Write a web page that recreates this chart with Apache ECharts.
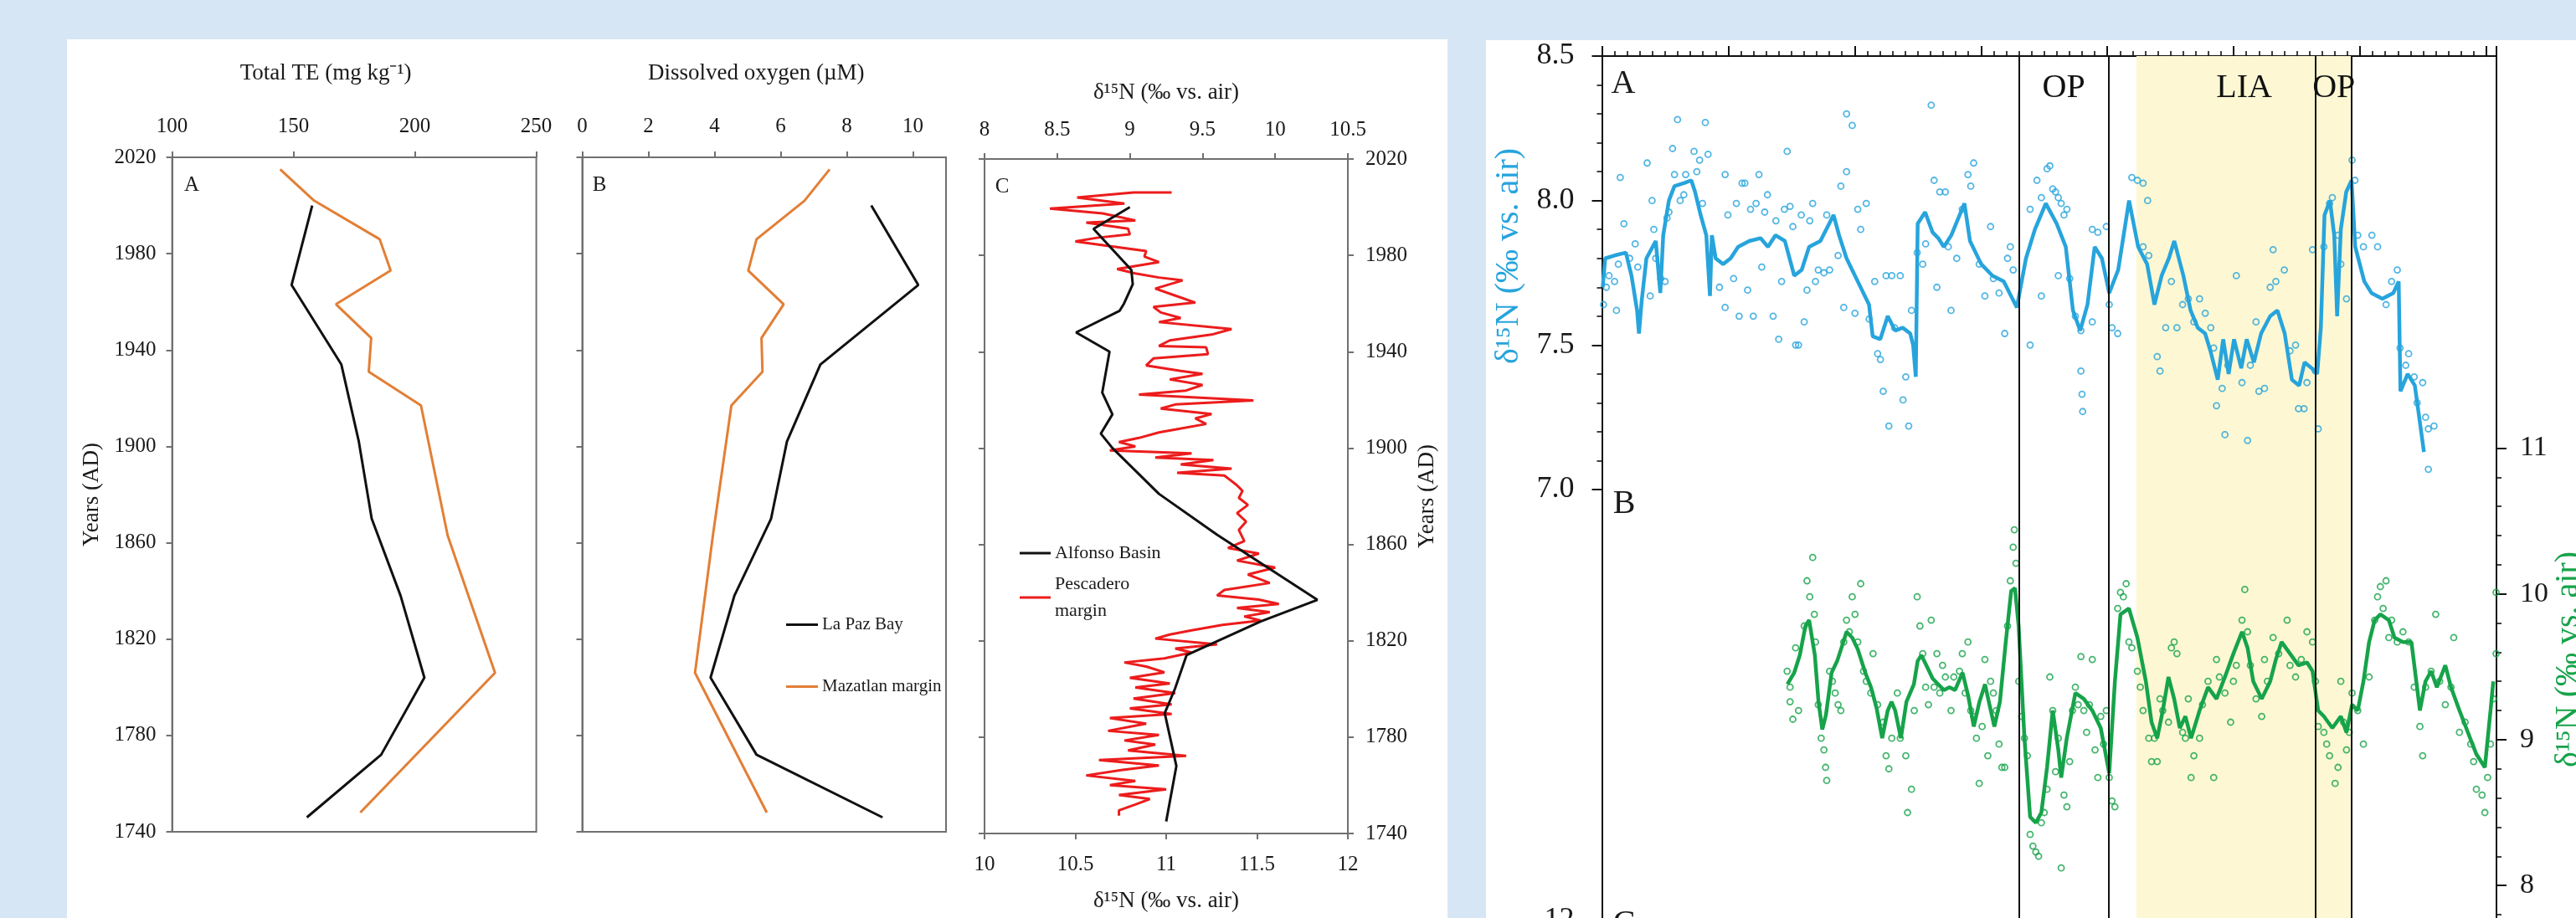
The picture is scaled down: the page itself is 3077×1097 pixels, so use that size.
<!DOCTYPE html>
<html>
<head>
<meta charset="utf-8">
<script src="https://cdn.jsdelivr.net/npm/echarts@6/dist/echarts.min.js"></script>
<style>
  html, body { margin: 0; padding: 0; background: #d7e6f5; }
  #chart { width: 3077px; height: 1097px; }
</style>
</head>
<body>
<div id="chart"></div>
<script>
// ---- panel A / B : trace elements and dissolved oxygen (years AD) ----
var yearsLaPaz = [2000, 1967, 1934, 1902, 1870, 1838, 1804, 1772, 1746];
var teLaPaz = [157.7, 149.2, 169.7, 176.9, 182.2, 194.1, 203.9, 186.1, 155.5];
var doLaPaz = [8.74, 10.16, 7.2, 6.19, 5.71, 4.6, 3.88, 5.27, 9.08];

var yearsMaz = [2015, 2002, 1986, 1973, 1959, 1945, 1931, 1917, 1863, 1806, 1748];
var teMaz = [144.5, 158.5, 185.5, 190.0, 167.5, 182.0, 181.0, 202.5, 213.5, 233.0, 177.5];
var doMaz = [7.48, 6.72, 5.27, 5.02, 6.09, 5.42, 5.45, 4.51, 3.95, 3.41, 5.58];

// ---- panel C : d15N, Alfonso Basin (top axis) ----
var alfonsoYears = [2000, 1991, 1974, 1968, 1960, 1957, 1948, 1940, 1923, 1914, 1906, 1900, 1881, 1864, 1837, 1828, 1814, 1800, 1790, 1768, 1745];
var alfonso = [9.0, 8.75, 9.01, 9.02, 8.96, 8.93, 8.63, 8.86, 8.81, 8.88, 8.8, 8.88, 9.2, 9.6, 10.29, 9.9, 9.39, 9.31, 9.24, 9.32, 9.25];

// Pescadero margin (bottom axis) : [d15N, year]
var pescadero = [
  [11.03,2006.1],[10.82,2006.1],[10.51,2004.0],[10.77,2001.5],[10.36,1999.4],[10.65,1997.4],[10.83,1994.5],[10.56,1993.6],
  [10.79,1991.1],[10.80,1988.7],[10.62,1987.3],[10.50,1985.8],[10.66,1984.1],[10.89,1981.8],[10.88,1979.5],[10.96,1977.2],
  [10.73,1974.3],[10.83,1972.5],[10.96,1970.8],[11.09,1969.6],[10.94,1966.2],[11.05,1963.3],[11.16,1960.4],[10.93,1958.6],
  [10.97,1956.3],[11.08,1954.0],[10.96,1952.3],[11.36,1949.4],[11.25,1947.1],[11.02,1944.7],[10.96,1942.4],[11.22,1941.8],
  [11.23,1939.0],[10.93,1937.2],[10.89,1934.3],[11.08,1932.0],[11.20,1930.8],[11.02,1928.5],[11.20,1926.2],[11.11,1923.9],
  [10.85,1922.2],[11.48,1919.8],[11.05,1918.1],[10.97,1916.4],[11.25,1914.1],[11.16,1912.3],[11.22,1910.0],[11.05,1907.7],
  [10.96,1906.5],[10.85,1904.2],[10.74,1902.5],[10.83,1900.7],[10.69,1899.0],[11.14,1897.8],[10.94,1896.1],[11.26,1895.0],
  [11.08,1893.2],[11.36,1891.5],[11.06,1889.7],[11.32,1888.6],[11.36,1886.3],[11.39,1884.5],[11.42,1882.2],[11.40,1879.3],
  [11.45,1876.4],[11.39,1873.0],[11.44,1869.5],[11.40,1866.0],[11.43,1861.4],[11.34,1858.5],[11.51,1856.2],[11.39,1853.3],
  [11.60,1850.4],[11.45,1847.5],[11.57,1844.0],[11.32,1841.1],[11.28,1838.8],[11.51,1837.1],[11.62,1835.3],[11.39,1833.6],
  [11.57,1831.9],[11.43,1830.1],[11.52,1828.4],[11.31,1826.6],[11.14,1824.3],[11.02,1822.6],[10.94,1820.9],[11.28,1818.5],
  [11.05,1816.8],[11.14,1815.1],[10.99,1812.7],[10.77,1811.0],[10.89,1809.3],[10.99,1806.9],[10.80,1804.6],[11.02,1802.3],
  [10.83,1800.6],[11.05,1798.3],[10.82,1796.0],[11.03,1793.6],[10.80,1791.9],[11.03,1789.6],[10.69,1787.9],[10.89,1785.6],
  [10.68,1782.6],[10.96,1780.9],[10.77,1778.6],[10.94,1776.9],[10.79,1774.5],[11.11,1772.2],[10.63,1770.5],[10.96,1768.2],
  [10.76,1766.4],[10.56,1764.1],[10.83,1761.8],[10.69,1760.1],[11.00,1758.3],[10.74,1756.0],[10.91,1754.3],[10.83,1752.0],
  [10.74,1749.6],[10.74,1747.4]
];

// ---- right figure : record position (no labels on that axis) vs d15N ----
var periodLines = [330, 401, 565, 593.5];
var liaBand = [423, 593.5];
var opBands = [[330, 401], [565, 593.5]];

var blueSmooth = [
  [0.6,7.70],[2.6,7.80],[10.0,7.81],[18.9,7.82],[23.4,7.74],[27.8,7.62],[29.3,7.54],[31.4,7.65],[35.2,7.80],[42.6,7.86],
  [45.0,7.74],[46.2,7.68],[48.5,7.88],[53.0,8.00],[57.4,8.05],[64.8,8.06],[70.7,8.07],[73.7,8.03],[78.1,7.95],[82.6,7.88],
  [85.5,7.67],[87.0,7.88],[90.0,7.80],[95.9,7.78],[101.8,7.80],[107.8,7.84],[116.6,7.86],[125.5,7.87],[131.4,7.84],[137.4,7.88],
  [144.8,7.86],[152.2,7.74],[158.1,7.76],[164.0,7.84],[172.9,7.86],[183.3,7.95],[187.7,7.88],[193.6,7.80],[202.5,7.72],[211.4,7.64],
  [214.3,7.53],[220.3,7.52],[226.2,7.60],[232.1,7.55],[238.0,7.56],[244.0,7.54],[246.3,7.50],[248.4,7.39],[249.9,7.92],[255.8,7.96],
  [261.7,7.89],[266.2,7.87],[270.6,7.84],[276.5,7.88],[286.9,7.99],[291.3,7.86],[300.2,7.78],[309.1,7.74],[318.0,7.72],[328.4,7.63],
  [335.6,7.80],[342.7,7.90],[351.3,7.99],[359.9,7.92],[367.1,7.84],[372.8,7.62],[378.5,7.55],[384.3,7.64],[390.0,7.84],[395.7,7.80],
  [401.5,7.68],[408.6,7.76],[417.2,8.00],[424.4,7.84],[431.5,7.78],[437.3,7.64],[443.0,7.74],[448.7,7.80],[453.0,7.86],[460.2,7.74],
  [465.9,7.62],[471.6,7.56],[477.4,7.54],[481.6,7.48],[487.4,7.38],[491.7,7.52],[496.0,7.40],[500.3,7.52],[506.0,7.42],[510.3,7.52],
  [516.0,7.44],[521.7,7.54],[528.9,7.60],[534.6,7.62],[540.4,7.54],[546.1,7.38],[551.8,7.36],[556.1,7.44],[561.8,7.42],[566.1,7.40],
  [569.0,7.56],[571.9,7.95],[576.2,8.00],[579.6,7.88],[581.9,7.60],[584.8,7.90],[589.1,8.03],[593.3,8.07],[596.2,7.84],[603.4,7.72],
  [609.1,7.68],[617.7,7.66],[626.3,7.68],[630.6,7.72],[632.0,7.34],[637.7,7.40],[643.4,7.36],[650.6,7.13]
];

var blueDots = [
  [1.2,7.64],[3.5,7.70],[5.6,7.74],[10.0,7.72],[11.5,7.62],[13.0,7.78],[14.5,8.08],[17.4,7.92],[21.9,7.80],[26.3,7.85],
  [28.4,7.77],[35.8,8.13],[38.2,7.67],[39.7,8.00],[41.1,7.90],[42.6,7.80],[46.5,7.73],[50.0,7.72],[51.5,7.94],[53.0,7.96],
  [55.9,8.18],[57.4,8.09],[59.8,8.28],[61.9,8.00],[64.8,8.02],[66.3,8.09],[72.9,8.17],[77.3,8.14],[81.8,8.27],[84.0,8.16],
  [75.1,8.10],[79.6,7.99],[93.0,7.70],[97.5,8.09],[97.5,7.63],[99.7,7.95],[104.2,7.73],[106.4,7.99],[108.6,7.60],[110.9,8.06],
  [113.1,8.06],[115.3,7.69],[117.6,7.97],[119.8,7.60],[122.0,7.99],[124.3,8.09],[126.5,7.77],[128.8,7.96],[131.0,8.02],[135.5,7.60],
  [137.7,7.93],[139.9,7.52],[142.2,7.72],[144.4,7.97],[146.6,8.17],[148.9,7.98],[151.1,7.91],[153.3,7.50],[155.6,7.50],[157.8,7.95],
  [160.1,7.58],[162.3,7.69],[164.5,7.93],[166.8,7.99],[169.0,7.72],[171.2,7.76],[175.7,7.75],[177.9,7.95],[180.2,7.76],[186.9,7.81],
  [189.1,8.05],[191.4,7.63],[193.6,8.10],[193.6,8.30],[198.1,8.26],[200.3,7.61],[202.5,7.97],[204.8,7.90],[209.2,7.99],[211.5,7.59],
  [215.9,7.72],[218.2,7.47],[220.4,7.45],[222.6,7.34],[224.9,7.74],[227.1,7.22],[229.4,7.74],[231.6,7.56],[236.1,7.74],[238.3,7.31],
  [240.5,7.39],[242.8,7.22],[245.0,7.62],[249.5,7.82],[253.9,7.78],[256.2,7.85],[260.6,8.33],[262.9,8.07],[265.1,7.70],[267.4,8.03],
  [271.8,8.03],[274.1,7.84],[276.3,7.62],[280.8,7.80],[285.2,7.97],[289.7,8.09],[291.9,8.05],[294.2,8.13],[298.6,7.78],[303.1,7.67],
  [307.6,7.91],[309.8,7.73],[314.3,7.68],[318.8,7.54],[321.0,7.80],[323.2,7.84],[325.5,7.76],[338.9,7.97],[344.3,8.07],[347.8,8.01],
  [352.3,8.11],[354.5,8.12],[356.8,8.04],[359.0,8.03],[361.2,8.01],[363.5,7.99],[365.7,7.95],[368.0,7.97],[347.8,7.67],[338.9,7.50],
  [361.2,7.74],[370.2,7.73],[374.7,7.60],[379.1,7.55],[379.1,7.41],[380.0,7.33],[380.5,7.27],[388.1,7.58],[388.1,7.90],[392.5,7.89],
  [399.2,7.91],[401.5,7.64],[403.7,7.56],[408.2,7.54],[419.4,8.08],[423.8,8.07],[428.3,8.06],[431.9,8.00],[428.3,7.84],[432.8,7.81],
  [439.5,7.46],[441.7,7.41],[446.2,7.56],[450.7,7.72],[455.1,7.56],[459.6,7.64],[464.1,7.66],[468.5,7.58],[473.0,7.66],[477.5,7.61],
  [481.9,7.56],[484.2,7.49],[486.4,7.29],[490.9,7.35],[493.1,7.19],[495.4,7.43],[502.1,7.74],[506.6,7.37],[511.0,7.17],[513.2,7.43],
  [517.7,7.58],[520.0,7.34],[524.4,7.35],[528.9,7.70],[531.2,7.83],[533.4,7.72],[540.1,7.76],[544.6,7.48],[549.0,7.50],[551.3,7.28],
  [555.7,7.28],[558.0,7.37],[562.4,7.83],[564.7,7.41],[566.9,7.21],[571.4,7.84],[575.9,7.99],[578.1,8.01],[582.6,7.88],[584.8,7.78],
  [589.3,7.66],[593.7,8.14],[596.0,8.07],[598.2,7.88],[602.7,7.84],[609.4,7.88],[613.9,7.84],[620.6,7.64],[625.0,7.72],[629.5,7.76],
  [631.7,7.49],[636.2,7.43],[638.5,7.47],[642.9,7.39],[645.2,7.30],[649.6,7.37],[651.9,7.25],[654.1,7.21],[658.6,7.22],[654.1,7.07]
];

var greenSmooth = [
  [146.8,9.38],[152.2,9.46],[156.6,9.58],[161.1,9.78],[164.0,9.82],[168.5,9.58],[171.4,9.26],[174.4,9.07],[177.3,9.17],[181.8,9.46],
  [186.2,9.54],[190.7,9.66],[193.6,9.74],[198.1,9.70],[202.5,9.62],[208.4,9.46],[212.9,9.36],[217.3,9.22],[221.8,9.01],[226.2,9.20],
  [229.2,9.26],[232.1,9.20],[236.6,9.01],[241.0,9.26],[246.9,9.38],[249.9,9.54],[252.8,9.58],[257.3,9.50],[261.7,9.42],[266.2,9.38],
  [270.6,9.34],[275.1,9.36],[279.5,9.34],[285.4,9.46],[289.9,9.30],[294.3,9.09],[298.8,9.26],[303.2,9.38],[306.2,9.26],[310.6,9.09],
  [315.0,9.26],[319.5,9.66],[323.9,10.02],[326.9,10.04],[329.8,9.78],[334.4,9.01],[338.9,8.47],[343.4,8.43],[347.8,8.50],[352.3,8.81],
  [356.8,9.20],[361.2,8.93],[363.5,8.74],[367.9,9.01],[374.7,9.32],[381.4,9.28],[388.1,9.20],[394.8,9.08],[401.5,8.77],[406.0,9.40],
  [410.4,9.86],[417.1,9.90],[423.8,9.70],[430.5,9.40],[435.0,9.12],[439.5,9.01],[443.9,9.20],[448.4,9.43],[452.9,9.28],[457.4,9.08],
  [461.8,9.16],[466.3,9.01],[473.0,9.20],[479.7,9.36],[486.4,9.28],[493.1,9.43],[499.8,9.59],[506.6,9.74],[511.0,9.63],[515.5,9.40],
  [522.2,9.28],[528.9,9.40],[533.4,9.55],[537.9,9.67],[544.6,9.59],[551.3,9.51],[558.0,9.53],[562.4,9.47],[566.9,9.20],[571.4,9.16],
  [578.1,9.08],[584.8,9.16],[589.3,9.05],[593.7,9.24],[598.2,9.20],[602.7,9.40],[607.2,9.67],[611.6,9.82],[616.1,9.86],[622.8,9.82],
  [627.3,9.70],[634.0,9.67],[640.7,9.67],[647.4,9.20],[651.8,9.40],[656.3,9.47],[660.8,9.36],[667.5,9.51],[672.0,9.36],[678.7,9.20],
  [685.4,9.05],[692.1,8.90],[698.8,8.81],[703.3,9.20],[705.5,9.40]
];

var greenDots = [
  [146.6,9.47],[148.9,9.36],[148.9,9.26],[151.1,9.14],[153.3,9.63],[155.6,9.20],[160.1,9.78],[162.3,10.09],[164.5,9.98],[166.8,10.25],
  [168.1,9.86],[169.0,9.67],[171.2,9.24],[173.5,9.01],[175.7,8.93],[177.0,8.81],[177.9,8.72],[180.2,9.47],[182.4,9.40],[184.6,9.32],
  [186.9,9.24],[189.1,9.20],[191.4,9.67],[193.6,9.82],[195.8,9.74],[198.1,9.98],[200.3,9.86],[202.5,9.67],[204.8,10.07],[207.0,9.47],
  [209.2,9.40],[212.8,9.32],[214.6,9.59],[218.2,9.24],[222.6,9.12],[224.9,8.89],[227.1,8.80],[229.4,9.01],[233.8,9.32],[236.1,9.01],
  [240.5,8.89],[241.9,8.50],[245.0,8.66],[247.2,9.20],[249.5,9.98],[251.7,9.78],[253.9,9.59],[256.2,9.36],[258.4,9.24],[260.6,9.82],
  [262.9,9.36],[265.1,9.59],[267.4,9.32],[269.6,9.51],[271.8,9.43],[276.3,9.20],[278.5,9.43],[283.0,9.47],[285.2,9.59],[287.5,9.32],
  [289.7,9.67],[291.9,9.20],[294.2,9.16],[296.4,9.01],[298.6,8.70],[300.9,9.09],[303.1,9.55],[305.4,8.89],[307.6,9.40],[309.8,9.32],
  [312.1,9.20],[314.3,8.97],[316.5,8.81],[318.8,8.81],[321.0,9.78],[323.2,10.09],[325.5,10.32],[326.4,10.44],[327.7,10.21],[329.9,9.40],
  [332.2,9.16],[334.4,9.01],[336.7,8.89],[338.9,8.35],[341.1,8.27],[343.4,8.23],[345.6,8.20],[347.8,8.43],[350.1,8.50],[352.3,8.66],
  [354.5,9.43],[356.8,9.20],[359.0,8.78],[361.2,9.01],[363.5,8.12],[365.7,8.62],[368.0,8.54],[370.2,8.85],[372.4,9.20],[374.7,9.36],
  [376.9,9.24],[379.1,9.57],[381.4,9.20],[383.6,9.05],[385.8,9.24],[388.1,9.55],[390.3,8.93],[392.5,8.74],[394.8,9.16],[397.0,8.97],
  [399.2,9.20],[401.5,8.74],[403.7,8.58],[406.0,8.54],[408.2,9.90],[410.4,10.01],[412.7,9.98],[414.9,10.07],[417.1,9.67],[419.4,9.63],
  [423.8,9.47],[426.1,9.36],[428.3,9.20],[432.8,9.01],[435.0,8.85],[437.3,9.01],[439.5,8.85],[441.7,9.28],[443.9,9.20],[448.4,9.12],
  [450.7,9.63],[452.9,9.67],[455.1,9.59],[459.6,9.05],[461.8,9.01],[464.1,9.28],[466.3,8.74],[468.5,8.89],[473.0,9.01],[475.3,9.24],
  [479.7,9.40],[484.2,8.74],[486.4,9.55],[488.7,9.43],[493.1,9.32],[497.6,9.12],[499.8,9.40],[502.1,9.51],[506.6,9.82],[508.8,10.03],
  [511.0,9.74],[513.2,9.51],[517.7,9.28],[522.2,9.16],[524.4,9.55],[526.7,9.40],[531.2,9.70],[535.6,9.59],[542.3,9.82],[544.6,9.51],
  [549.0,9.43],[553.5,9.55],[558.0,9.74],[562.4,9.67],[564.7,9.40],[566.9,9.09],[571.4,9.05],[573.6,8.97],[575.9,8.89],[580.3,8.70],
  [582.6,8.81],[584.8,9.40],[587.0,9.12],[589.3,8.93],[591.5,9.05],[593.7,9.32],[598.2,9.20],[602.7,8.97],[607.2,9.43],[611.6,9.82],
  [613.9,9.98],[616.1,10.05],[618.3,9.90],[620.6,10.09],[622.8,9.70],[625.0,9.82],[629.5,9.67],[634.0,9.74],[638.5,9.67],[642.9,9.36],
  [647.4,9.09],[649.6,8.89],[651.9,9.36],[656.3,9.47],[659.9,9.86],[663.0,9.40],[667.5,9.24],[672.0,9.36],[674.2,9.70],[678.7,9.05],
  [683.2,9.12],[687.6,8.97],[689.9,8.85],[692.1,8.66],[696.6,8.62],[698.8,8.50],[701.0,8.74],[703.3,8.97],[705.5,9.28],[707.7,10.01],
  [707.7,9.59]
];

var FONT = '"Liberation Serif", "Times New Roman", serif';
var gray = '#707070';
var ink = '#1a1a1a';
var orange = '#e27f35';
var red = '#ec1c1c';
var blue = '#27a4dc';
var green = '#16a34a';
var yellow = '#fdf8d3';

function pairs(xs, ys) {
  return xs.map(function (v, i) { return [v, ys[i]]; });
}

function plain(v) { return String(v); }

function axis(o) {
  var c = o.color || gray;
  return {
    type: 'value', gridIndex: o.grid, position: o.pos, show: o.show !== false,
    min: o.min, max: o.max, interval: o.interval,
    name: o.name || '', nameLocation: 'middle', nameGap: o.nameGap || 0, nameRotate: o.nameRotate,
    nameTextStyle: { color: ink, fontFamily: FONT, fontSize: o.nameSize || 27, padding: o.namePad || 0 },
    axisLine: { show: true, onZero: false, lineStyle: { color: c, width: 2 } },
    axisTick: { show: o.ticks !== false, inside: false, length: o.tickLen || 7, lineStyle: { color: c, width: 2 } },
    minorTick: { show: !!o.minor, splitNumber: o.minor || 5, length: o.minorLen || 6, lineStyle: { color: c, width: 1.6 } },
    axisLabel: {
      show: o.labels !== false, color: ink, fontFamily: FONT, fontSize: o.fs || 25,
      margin: o.margin || 12, showMaxLabel: o.showMax, formatter: o.fmt || plain
    },
    splitLine: { show: false },
    minorSplitLine: { show: false }
  };
}

function gtext(x, y, text, size, color, rot) {
  return {
    type: 'text', x: x, y: y, rotation: rot || 0, z: 50,
    style: { text: text, fontFamily: FONT, fontSize: size, fill: color || ink, align: 'center', verticalAlign: 'middle' }
  };
}

var boxGrid = { show: true, borderColor: gray, borderWidth: 2, backgroundColor: 'transparent', outerBoundsMode: 'none' };
var rW = 1068.5;

var chart = echarts.init(document.getElementById('chart'));
chart.setOption({
  animation: false,
  backgroundColor: '#d7e6f5',
  grid: [
    Object.assign({ left: 205.6, top: 188, width: 435, height: 806 }, boxGrid),
    Object.assign({ left: 695.5, top: 188, width: 434.5, height: 806 }, boxGrid),
    Object.assign({ left: 1176, top: 190, width: 434, height: 806 }, boxGrid),
    { left: 1913.5, top: 67, width: rW, height: 1100, outerBoundsMode: 'none' },
    { left: 1913.5, top: 67, width: rW, height: 518, outerBoundsMode: 'none' },
    { left: 1913.5, top: 535.5, width: rW, height: 696.8, outerBoundsMode: 'none' },
    { left: 1913.5, top: 1100, width: rW, height: 400, outerBoundsMode: 'none' }
  ],
  xAxis: [
    axis({ grid: 0, pos: 'top', min: 100, max: 250, interval: 50, margin: 24,
      name: 'Total TE (mg kg\u207B\u00B9)', nameGap: 87, namePad: [0, 68, 0, 0] }),
    axis({ grid: 1, pos: 'top', min: 0, max: 11, interval: 2, margin: 24, showMax: false,
      name: 'Dissolved oxygen (\u00B5M)', nameGap: 87, namePad: [0, 19, 0, 0] }),
    axis({ grid: 2, pos: 'top', min: 8, max: 10.5, interval: 0.5, margin: 22,
      name: '\u03B4\u00B9\u2075N (\u2030 vs. air)', nameGap: 66 }),
    axis({ grid: 2, pos: 'bottom', min: 10, max: 12, interval: 0.5, margin: 25,
      name: '\u03B4\u00B9\u2075N (\u2030 vs. air)', nameGap: 67 }),
    axis({ grid: 3, pos: 'top', min: 0, max: 708, interval: 100, color: '#111', labels: false,
      tickLen: 12, minor: 10, minorLen: 6 }),
    { type: 'value', gridIndex: 4, min: 0, max: 708, show: false },
    { type: 'value', gridIndex: 5, min: 0, max: 708, show: false },
    { type: 'value', gridIndex: 6, min: 0, max: 708, show: false }
  ],
  yAxis: [
    axis({ grid: 0, pos: 'left', min: 1740, max: 2020, interval: 40, margin: 19,
      name: 'Years (AD)', nameGap: 82, nameRotate: 90 }),
    axis({ grid: 1, pos: 'left', min: 1740, max: 2020, interval: 40, labels: false }),
    axis({ grid: 2, pos: 'left', min: 1740, max: 2020, interval: 40, labels: false }),
    axis({ grid: 2, pos: 'right', min: 1740, max: 2020, interval: 40, margin: 21,
      name: 'Years (AD)', nameGap: 81, nameRotate: 90 }),
    axis({ grid: 3, pos: 'left', min: 0, max: 1, color: '#111', ticks: false, labels: false }),
    axis({ grid: 3, pos: 'right', min: 0, max: 1, color: '#111', ticks: false, labels: false }),
    axis({ grid: 4, pos: 'left', min: 7, max: 8.5, interval: 0.5, color: '#111', fs: 36, margin: 33,
      tickLen: 12, minor: 5, minorLen: 6, fmt: function (v) { return v.toFixed(1); } }),
    axis({ grid: 5, pos: 'right', min: 7, max: 11, interval: 1, color: '#111', fs: 34, margin: 28,
      tickLen: 12, minor: 5, minorLen: 6 }),
    axis({ grid: 6, pos: 'left', min: 8, max: 12, interval: 1, color: '#111', fs: 36, margin: 33, tickLen: 12 })
  ],
  legend: [
    {
      data: ['La Paz Bay', 'Mazatlan margin'], orient: 'vertical', left: 934, top: 731,
      icon: 'rect', itemWidth: 38, itemHeight: 3, itemGap: 53, selectedMode: false,
      textStyle: { fontFamily: FONT, fontSize: 21, color: ink }
    },
    {
      data: ['Alfonso Basin', 'Pescadero margin'], orient: 'vertical', left: 1213, top: 640,
      icon: 'rect', itemWidth: 37, itemHeight: 3, itemGap: 5, selectedMode: false,
      formatter: function (n) { return n === 'Pescadero margin' ? 'Pescadero\nmargin' : n; },
      textStyle: { fontFamily: FONT, fontSize: 22, lineHeight: 32, color: ink }
    }
  ],
  graphic: [
    { type: 'rect', z: -10, shape: { x: 80, y: 47, width: 1649, height: 1050 }, style: { fill: '#fff' } },
    { type: 'rect', z: -10, shape: { x: 1775, y: 48, width: 1302, height: 1049 }, style: { fill: '#fff' } },
    gtext(229, 221, 'A', 25),
    gtext(716, 221, 'B', 25),
    gtext(1197, 223, 'C', 25),
    gtext(1939, 100, 'A', 40),
    gtext(1940, 602, 'B', 40),
    gtext(1940, 1104, 'C', 40),
    gtext(1802, 306, '\u03B4\u00B9\u2075N (\u2030 vs. air)', 40, blue, Math.PI / 2),
    gtext(3068, 788, '\u03B4\u00B9\u2075N (\u2030 vs. air)', 40, green, Math.PI / 2)
  ],
  series: [
    { name: 'La Paz Bay', type: 'line', xAxisIndex: 0, yAxisIndex: 0, data: pairs(teLaPaz, yearsLaPaz),
      symbol: 'none', color: '#111', lineStyle: { width: 3 } },
    { name: 'Mazatlan margin', type: 'line', xAxisIndex: 0, yAxisIndex: 0, data: pairs(teMaz, yearsMaz),
      symbol: 'none', color: orange, lineStyle: { width: 3 } },
    { name: 'La Paz Bay', type: 'line', xAxisIndex: 1, yAxisIndex: 1, data: pairs(doLaPaz, yearsLaPaz),
      symbol: 'none', color: '#111', lineStyle: { width: 3 } },
    { name: 'Mazatlan margin', type: 'line', xAxisIndex: 1, yAxisIndex: 1, data: pairs(doMaz, yearsMaz),
      symbol: 'none', color: orange, lineStyle: { width: 3 } },
    { name: 'Pescadero margin', type: 'line', xAxisIndex: 3, yAxisIndex: 2, data: pescadero,
      symbol: 'none', color: red, lineStyle: { width: 3 } },
    { name: 'Alfonso Basin', type: 'line', xAxisIndex: 2, yAxisIndex: 2, data: pairs(alfonso, alfonsoYears),
      symbol: 'none', color: '#111', lineStyle: { width: 3 } },
    // shaded periods of the right-hand record
    { type: 'line', xAxisIndex: 4, yAxisIndex: 4, data: [], z: 1, silent: true,
      markArea: {
        silent: true,
        label: { show: true, position: 'insideTop', distance: 18, fontFamily: FONT, fontSize: 40, color: '#111' },
        data: [
          [{ name: 'LIA', xAxis: liaBand[0], itemStyle: { color: yellow } }, { xAxis: liaBand[1] }],
          [{ name: 'OP', xAxis: opBands[0][0], itemStyle: { color: 'rgba(0,0,0,0)' } }, { xAxis: opBands[0][1] }],
          [{ name: 'OP', xAxis: opBands[1][0], itemStyle: { color: 'rgba(0,0,0,0)' } }, { xAxis: opBands[1][1] }]
        ]
      }
    },
    { type: 'line', xAxisIndex: 4, yAxisIndex: 4, data: [], z: 2, silent: true,
      markLine: {
        silent: true, symbol: ['none', 'none'], label: { show: false },
        lineStyle: { color: '#111', width: 2, type: 'solid' },
        data: periodLines.map(function (x) { return { xAxis: x }; })
      }
    },
    { type: 'scatter', xAxisIndex: 5, yAxisIndex: 6, data: blueDots, z: 3, symbol: 'circle', symbolSize: 7,
      itemStyle: { color: 'rgba(255,255,255,0)', borderColor: blue, borderWidth: 1.8 } },
    { type: 'line', xAxisIndex: 5, yAxisIndex: 6, data: blueSmooth, z: 4, symbol: 'none',
      color: blue, lineStyle: { width: 4.5 } },
    { type: 'scatter', xAxisIndex: 6, yAxisIndex: 7, data: greenDots, z: 3, symbol: 'circle', symbolSize: 7,
      itemStyle: { color: 'rgba(255,255,255,0)', borderColor: green, borderWidth: 1.8 } },
    { type: 'line', xAxisIndex: 6, yAxisIndex: 7, data: greenSmooth, z: 4, symbol: 'none',
      color: green, lineStyle: { width: 4.5 } }
  ]
});
</script>
</body>
</html>
